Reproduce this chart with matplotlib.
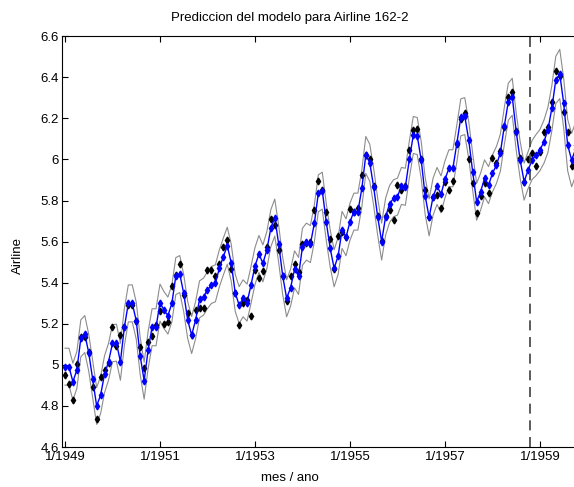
import matplotlib
matplotlib.use('Agg')
import matplotlib.pyplot as plt
import numpy as np

plt.rcParams['font.family'] = ['Liberation Sans', 'DejaVu Sans']

# log(pasajeros) observados, Mar 1950 .. Dic 1960
observed = [4.949, 4.905, 4.828, 5.004, 5.136, 5.136, 5.063, 4.890, 4.736, 4.942,
            4.977, 5.011, 5.182, 5.094, 5.147, 5.182, 5.293, 5.293, 5.215, 5.088, 4.984, 5.112,
            5.142, 5.193, 5.263, 5.198, 5.209, 5.384, 5.438, 5.489, 5.342, 5.252, 5.147, 5.268,
            5.278, 5.278, 5.464, 5.460, 5.434, 5.493, 5.576, 5.606, 5.468, 5.352, 5.193, 5.303,
            5.318, 5.236, 5.460, 5.425, 5.455, 5.576, 5.710, 5.680, 5.557, 5.434, 5.313, 5.434,
            5.489, 5.451, 5.587, 5.595, 5.598, 5.753, 5.897, 5.849, 5.743, 5.613, 5.468, 5.628,
            5.649, 5.624, 5.759, 5.746, 5.762, 5.924, 6.023, 6.004, 5.872, 5.724, 5.602, 5.724,
            5.753, 5.707, 5.875, 5.852, 5.872, 6.045, 6.142, 6.146, 6.001, 5.849, 5.720, 5.817,
            5.829, 5.762, 5.892, 5.852, 5.894, 6.075, 6.196, 6.225, 6.001, 5.883, 5.737, 5.820,
            5.886, 5.835, 6.006, 5.981, 6.040, 6.157, 6.306, 6.326, 6.138, 6.009, 5.892, 6.004,
            6.033, 5.969, 6.038, 6.133, 6.157, 6.282, 6.433, 6.407, 6.230, 6.133, 5.966, 6.068]

# prediccion del modelo
predicted = [4.991, 4.991, 4.918, 4.975, 5.129, 5.150, 5.059, 4.929, 4.800, 4.853,
             4.955, 5.015, 5.105, 5.108, 5.015, 5.183, 5.299, 5.299, 5.215, 5.043, 4.923, 5.072,
             5.183, 5.183, 5.303, 5.267, 5.240, 5.299, 5.432, 5.442, 5.348, 5.218, 5.145, 5.218,
             5.319, 5.332, 5.364, 5.389, 5.397, 5.470, 5.527, 5.580, 5.497, 5.351, 5.291, 5.324,
             5.303, 5.389, 5.481, 5.540, 5.494, 5.559, 5.665, 5.717, 5.587, 5.433, 5.324, 5.376,
             5.465, 5.433, 5.575, 5.600, 5.588, 5.689, 5.835, 5.848, 5.697, 5.567, 5.470, 5.530,
             5.657, 5.621, 5.697, 5.746, 5.746, 5.859, 6.022, 5.984, 5.864, 5.721, 5.600, 5.721,
             5.783, 5.811, 5.819, 5.871, 5.867, 6.000, 6.119, 6.114, 5.997, 5.822, 5.718, 5.819,
             5.871, 5.830, 5.903, 5.957, 5.957, 6.078, 6.205, 6.211, 6.095, 5.940, 5.794, 5.843,
             5.908, 5.875, 5.932, 5.973, 6.033, 6.163, 6.281, 6.305, 6.135, 5.997, 5.892, 5.948,
             5.997, 6.021, 6.046, 6.086, 6.143, 6.249, 6.387, 6.416, 6.273, 6.070, 5.997, 6.050]

# semiancho de la banda de confianza
halfwidth = [0.09] * 118 + [0.095, 0.10, 0.10, 0.105, 0.11, 0.11, 0.115, 0.12, 0.12, 0.125, 0.13, 0.13]

forecast_start = 117.5
tick_labels = ['1/1949', '1/1951', '1/1953', '1/1955', '1/1957', '1/1959']

t = np.arange(len(observed))
pred = np.array(predicted)
hw = np.array(halfwidth)

fig = plt.figure(figsize=(5.74, 4.87), dpi=100)
ax = fig.add_axes([61.7 / 574, 40 / 487, 512.3 / 574, 410.8 / 487])

ax.plot(t, pred + hw, color='#8c8c8c', lw=0.8)
ax.plot(t, pred - hw, color='#8c8c8c', lw=0.8)
ax.plot(t, observed, 'kd', ms=3.5, mec='k', mfc='k', ls='none')
ax.plot(t, pred, '-d', color='#0000ff', ms=3.5, mfc='#0000ff', mec='#0000ff', lw=1)
ax.axvline(forecast_start, color='#404040', ls=(0, (6, 4)), lw=1.2)

ax.set_xlim(-0.83, 128.6)
ax.set_ylim(4.6, 6.6)
ax.set_xticks(np.arange(0, 121, 24))
ax.set_xticklabels(tick_labels)
yt = np.round(np.arange(4.6, 6.61, 0.2), 1)
ax.set_yticks(yt)
ax.set_yticklabels(['%g' % v for v in yt])
ax.tick_params(direction='in', top=True, right=False, labelsize=9.5, length=4)
ax.tick_params(axis='x', pad=3)
ax.tick_params(axis='y', pad=2)
ax.spines['right'].set_visible(False)

fig.text(290 / 574, 1 - 18 / 487, 'Prediccion del modelo para Airline 162-2', ha='center', va='center', fontsize=9.5)
fig.text(290 / 574, 1 - 478 / 487, 'mes / ano', ha='center', va='center', fontsize=9.5)
fig.text(18 / 574, 1 - 255 / 487, 'Airline', ha='center', va='center', rotation=90, fontsize=9.5)

fig.savefig('out.png', dpi=100)
